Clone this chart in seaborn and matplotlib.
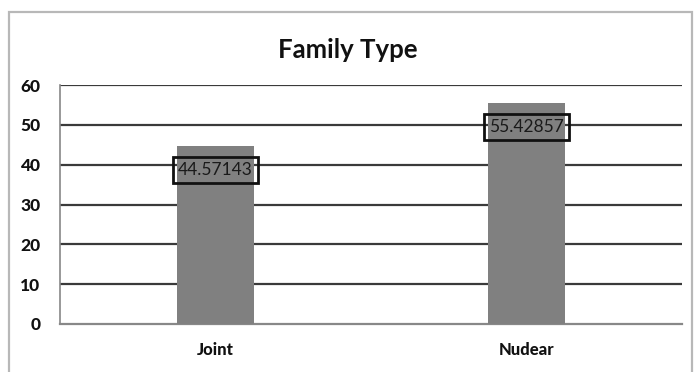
import matplotlib
matplotlib.use("Agg")
import matplotlib.pyplot as plt
import seaborn as sns
import pandas as pd
from matplotlib.patches import Rectangle

categories = ["Joint", "Nuclear"]
tick_labels = ["Joint", "Nudear"]
values = [44.57143, 55.42857]
label_texts = ["44.57143", "55.42857"]
y_ticks = [0, 10, 20, 30, 40, 50, 60]

sns.set_theme(style="white")
plt.rcParams["font.family"] = ["Lato", "DejaVu Sans"]

W, H = 695, 372
fig = plt.figure(figsize=(W / 100, H / 100), dpi=100)
fig.patch.set_facecolor("white")

# outer chart frame
fig.add_artist(Rectangle((9 / W, -0.05), (692 - 9) / W, 1 - 12 / H + 0.05,
                         transform=fig.transFigure, fill=False,
                         edgecolor="#b8b8b8", linewidth=1.6))

ax = fig.add_axes([60 / W, 1 - 324 / H, (682 - 60) / W, (324 - 85) / H])
df = pd.DataFrame({"type": categories, "pct": values})
sns.barplot(data=df, x="type", y="pct", color="#808080", saturation=1,
            width=0.25, ax=ax, zorder=3)
for p in ax.patches:
    p.set_edgecolor("none")

ax.set_ylim(0, 60)
ax.set_xlim(-0.5, 1.5)
ax.set_yticks(y_ticks)
ax.set_yticklabels([str(t) for t in y_ticks], fontsize=12.5, fontweight="black",
                   color="#111111")
ax.set_xticks(range(len(categories)))
ax.set_xticklabels(tick_labels, fontsize=12, fontweight="black", color="#111111")
ax.tick_params(axis="y", length=0, pad=14)
ax.tick_params(axis="x", length=0, pad=13)
ax.set_xlabel("")
ax.set_ylabel("")

for t in y_ticks[1:]:
    ax.axhline(t, color="#3a3a3a", linewidth=1.6, zorder=2)

for s in ["top", "right"]:
    ax.spines[s].set_visible(False)
ax.spines["left"].set_color("#888888")
ax.spines["left"].set_linewidth(1.2)
ax.spines["bottom"].set_color("#888888")
ax.spines["bottom"].set_linewidth(1.6)

for i, (v, txt) in enumerate(zip(values, label_texts)):
    ax.text(i, v - 5.9, txt, ha="center", va="center", fontsize=12.5,
            color="#1a1a1a", zorder=5,
            bbox=dict(boxstyle="square,pad=0.3", facecolor="none",
                      edgecolor="#111111", linewidth=2))

fig.text(0.5, 1 - 50 / H, "Family Type", ha="center", va="center",
         fontsize=18.5, fontweight="bold", color="#111111")

fig.savefig("out.png", dpi=100, facecolor="white")
